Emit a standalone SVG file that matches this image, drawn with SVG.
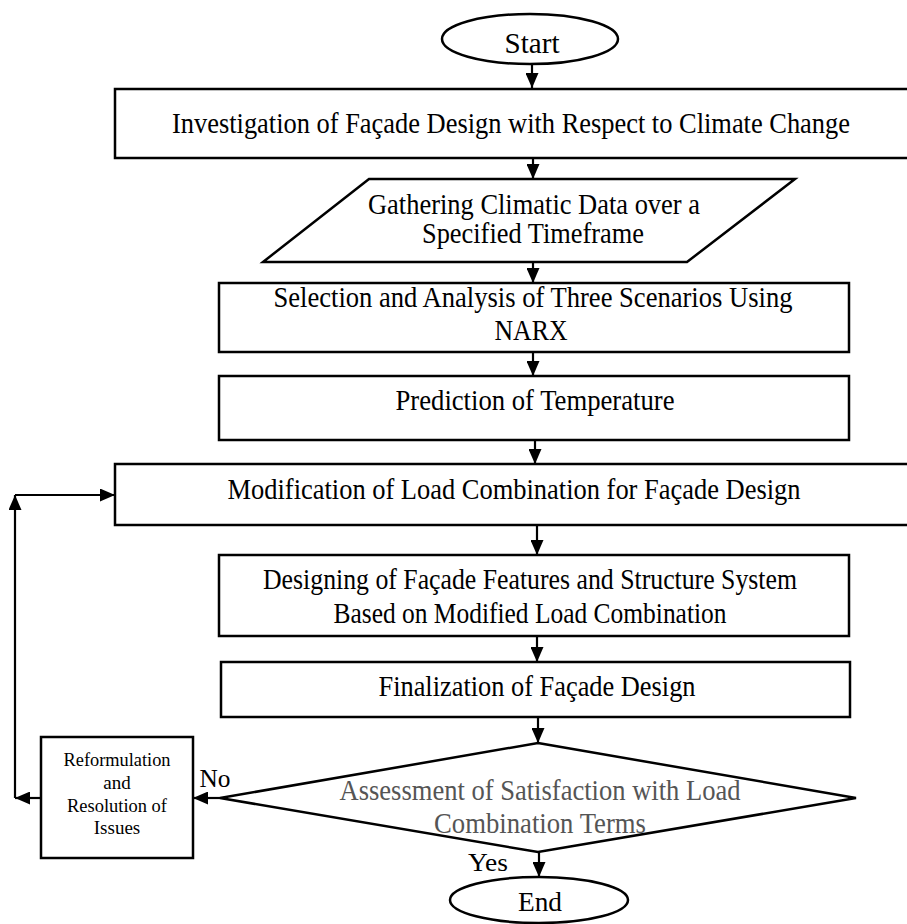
<svg xmlns="http://www.w3.org/2000/svg" width="907" height="924" viewBox="0 0 907 924">
<style>
.box{fill:#fff;stroke:#000;stroke-width:2.5}
.t{font-family:"Liberation Serif","Times New Roman",serif;font-size:30px;fill:#000;text-anchor:middle}
.g{fill:#555}
.s{font-size:19px}
.c{fill:none;stroke:#000;stroke-width:2.2}
</style>
<defs>
<marker id="ah" markerUnits="userSpaceOnUse" markerWidth="15" markerHeight="13" refX="15" refY="6.5" orient="auto">
<path d="M0,0 L15,6.5 L0,13 z" fill="#000"/>
</marker>
</defs>
<rect width="907" height="924" fill="#fff"/>
<g id="connectors">
<line class="c" x1="532" y1="64" x2="532" y2="88" marker-end="url(#ah)"/>
<line class="c" x1="533" y1="158" x2="533" y2="179" marker-end="url(#ah)"/>
<line class="c" x1="533" y1="262" x2="533" y2="283" marker-end="url(#ah)"/>
<line class="c" x1="533" y1="352" x2="533" y2="376" marker-end="url(#ah)"/>
<line class="c" x1="535" y1="440" x2="535" y2="464" marker-end="url(#ah)"/>
<line class="c" x1="537" y1="525" x2="537" y2="555" marker-end="url(#ah)"/>
<line class="c" x1="537" y1="636" x2="537" y2="662" marker-end="url(#ah)"/>
<line class="c" x1="538" y1="717" x2="538" y2="743" marker-end="url(#ah)"/>
<line class="c" x1="539" y1="852" x2="539" y2="877" marker-end="url(#ah)"/>
<line class="c" x1="220" y1="798" x2="193" y2="798" marker-end="url(#ah)"/>
<line class="c" x1="41" y1="798" x2="15" y2="798" marker-end="url(#ah)"/>
<line class="c" x1="15" y1="798" x2="15" y2="495" marker-end="url(#ah)"/>
<line class="c" x1="15" y1="495" x2="115" y2="495" marker-end="url(#ah)"/>
</g>
<g id="start">
<ellipse class="box" cx="530" cy="39" rx="88" ry="25"/>
<text class="t" x="532" y="53" textLength="55" lengthAdjust="spacingAndGlyphs">Start</text>
</g>
<g id="investigation">
<rect class="box" x="115" y="89" width="800" height="69"/>
<text class="t" x="511" y="133" textLength="678" lengthAdjust="spacingAndGlyphs">Investigation of Façade Design with Respect to Climate Change</text>
</g>
<g id="gathering">
<polygon class="box" points="369,179 795,179 687,262 263,262"/>
<text class="t" x="534" y="214" textLength="332" lengthAdjust="spacingAndGlyphs">Gathering Climatic Data over a</text>
<text class="t" x="533" y="243" textLength="222" lengthAdjust="spacingAndGlyphs">Specified Timeframe</text>
</g>
<g id="selection">
<rect class="box" x="219" y="283" width="630" height="69"/>
<text class="t" x="533" y="307" textLength="519" lengthAdjust="spacingAndGlyphs">Selection and Analysis of Three Scenarios Using</text>
<text class="t" x="531" y="340" textLength="73" lengthAdjust="spacingAndGlyphs">NARX</text>
</g>
<g id="prediction">
<rect class="box" x="219" y="376" width="630" height="64"/>
<text class="t" x="535" y="410" textLength="279" lengthAdjust="spacingAndGlyphs">Prediction of Temperature</text>
</g>
<g id="modification">
<rect class="box" x="115" y="464" width="800" height="61"/>
<text class="t" x="514" y="499" textLength="573" lengthAdjust="spacingAndGlyphs">Modification of Load Combination for Façade Design</text>
</g>
<g id="designing">
<rect class="box" x="219" y="555" width="630" height="81"/>
<text class="t" x="530" y="589" textLength="534" lengthAdjust="spacingAndGlyphs">Designing of Façade Features and Structure System</text>
<text class="t" x="530" y="623" textLength="393" lengthAdjust="spacingAndGlyphs">Based on Modified Load Combination</text>
</g>
<g id="finalization">
<rect class="box" x="221" y="662" width="629" height="55"/>
<text class="t" x="537" y="696" textLength="317" lengthAdjust="spacingAndGlyphs">Finalization of Façade Design</text>
</g>
<g id="assessment">
<polygon class="box" points="538,743 856,798 538,852 220,798"/>
<text class="t g" x="540" y="800" textLength="401" lengthAdjust="spacingAndGlyphs">Assessment of Satisfaction with Load</text>
<text class="t g" x="540" y="833" textLength="212" lengthAdjust="spacingAndGlyphs">Combination Terms</text>
</g>
<g id="reformulation">
<rect class="box" x="41" y="737" width="152" height="121"/>
<text class="t s" x="117" y="766" textLength="107" lengthAdjust="spacingAndGlyphs">Reformulation</text>
<text class="t s" x="117" y="789">and</text>
<text class="t s" x="117" y="812" textLength="100" lengthAdjust="spacingAndGlyphs">Resolution of</text>
<text class="t s" x="117" y="834">Issues</text>
</g>
<g id="labels">
<text class="t" x="215" y="787" style="font-size:25px" textLength="31" lengthAdjust="spacingAndGlyphs">No</text>
<text class="t" x="488" y="871" style="font-size:25px" textLength="40" lengthAdjust="spacingAndGlyphs">Yes</text>
</g>
<g id="end">
<ellipse class="box" cx="539" cy="900" rx="89" ry="23"/>
<text class="t" x="540" y="911" style="font-size:28px" textLength="44" lengthAdjust="spacingAndGlyphs">End</text>
</g>
</svg>
